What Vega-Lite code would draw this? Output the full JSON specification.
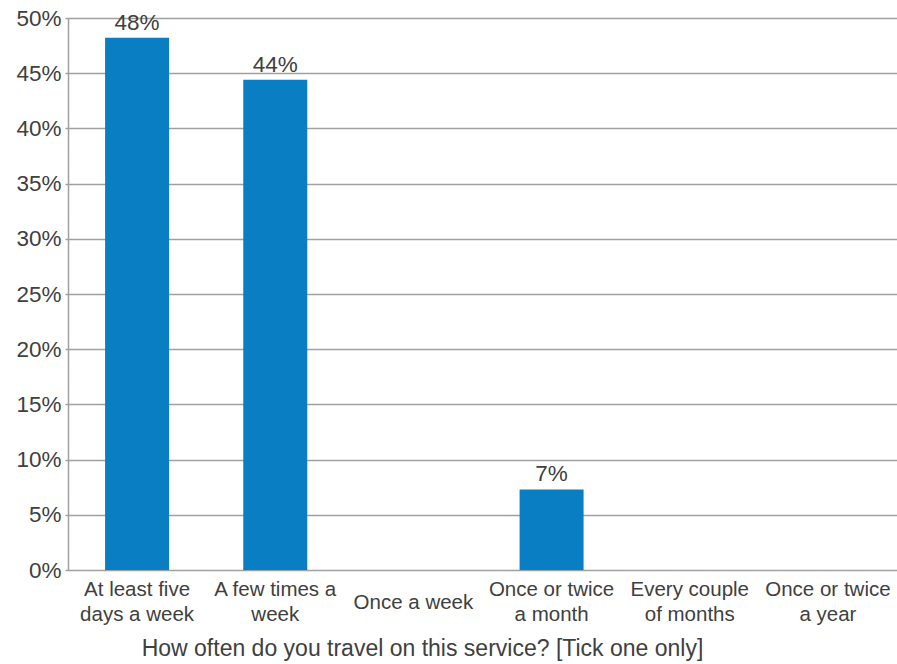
{
  "$schema": "https://vega.github.io/schema/vega-lite/v6.json",
  "width": 829,
  "height": 552,
  "autosize": {"type": "none"},
  "padding": {"left": 68, "top": 18, "right": 0, "bottom": 94},
  "background": "white",
  "config": {
    "view": {"stroke": null},
    "font": "Liberation Sans",
    "text": {"font": "Liberation Sans"}
  },
  "data": {
    "values": [
      {"frequency": "At least five days a week", "share": 0.482},
      {"frequency": "A few times a week", "share": 0.444},
      {"frequency": "Once a week", "share": null},
      {"frequency": "Once or twice a month", "share": 0.073},
      {"frequency": "Every couple of months", "share": null},
      {"frequency": "Once or twice a year", "share": null}
    ]
  },
  "encoding": {
    "x": {
      "field": "frequency",
      "type": "nominal",
      "sort": null,
      "scale": {
        "domain": ["At least five days a week", "A few times a week", "Once a week", "Once or twice a month", "Every couple of months", "Once or twice a year"],
        "paddingInner": 0,
        "paddingOuter": 0
      },
      "axis": {
        "title": "How often do you travel on this service? [Tick one only]",
        "titleFont": "Liberation Sans",
        "titleFontSize": 23,
        "titleFontWeight": "normal",
        "titleColor": "#404040",
        "titleX": 354,
        "titleY": 85,
        "titleAlign": "center",
        "titleBaseline": "alphabetic",
        "labelAngle": 0,
        "labelFont": "Liberation Sans",
        "labelFontSize": 20.5,
        "labelColor": "#404040",
        "labelBaseline": "top",
        "labelLineHeight": 25,
        "labelPadding": {"condition": {"test": "datum.value == 'Once a week'", "value": 22}, "value": 9},
        "labelExpr": "datum.value == 'At least five days a week' ? ['At least five', 'days a week'] : datum.value == 'A few times a week' ? ['A few times a', 'week'] : datum.value == 'Once or twice a month' ? ['Once or twice', 'a month'] : datum.value == 'Every couple of months' ? ['Every couple', 'of months'] : datum.value == 'Once or twice a year' ? ['Once or twice', 'a year'] : datum.value",
        "domain": false,
        "ticks": false
      }
    }
  },
  "layer": [
    {
      "mark": {"type": "bar", "color": "#0A7EC2", "size": 64},
      "encoding": {
        "y": {
          "field": "share",
          "type": "quantitative",
          "scale": {"domain": [0, 0.5], "nice": false},
          "axis": {
            "title": null,
            "format": ".0%",
            "values": [0, 0.05, 0.1, 0.15, 0.2, 0.25, 0.3, 0.35, 0.4, 0.45, 0.5],
            "labelFont": "Liberation Sans",
            "labelFontSize": 22.5,
            "labelColor": "#404040",
            "labelPadding": 4,
            "ticks": true,
            "tickSize": 3,
            "tickColor": "#A0A0A0",
            "tickWidth": 1.5,
            "domain": true,
            "domainColor": "#A0A0A0",
            "domainWidth": 1.5,
            "grid": true,
            "gridColor": "#A0A0A0",
            "gridWidth": 1.5
          }
        }
      }
    },
    {
      "mark": {"type": "text", "baseline": "alphabetic", "dy": -8, "font": "Liberation Sans", "fontSize": 22.5, "color": "#404040"},
      "encoding": {
        "y": {"field": "share", "type": "quantitative"},
        "text": {"field": "share", "type": "quantitative", "format": ".0%"}
      }
    }
  ]
}
